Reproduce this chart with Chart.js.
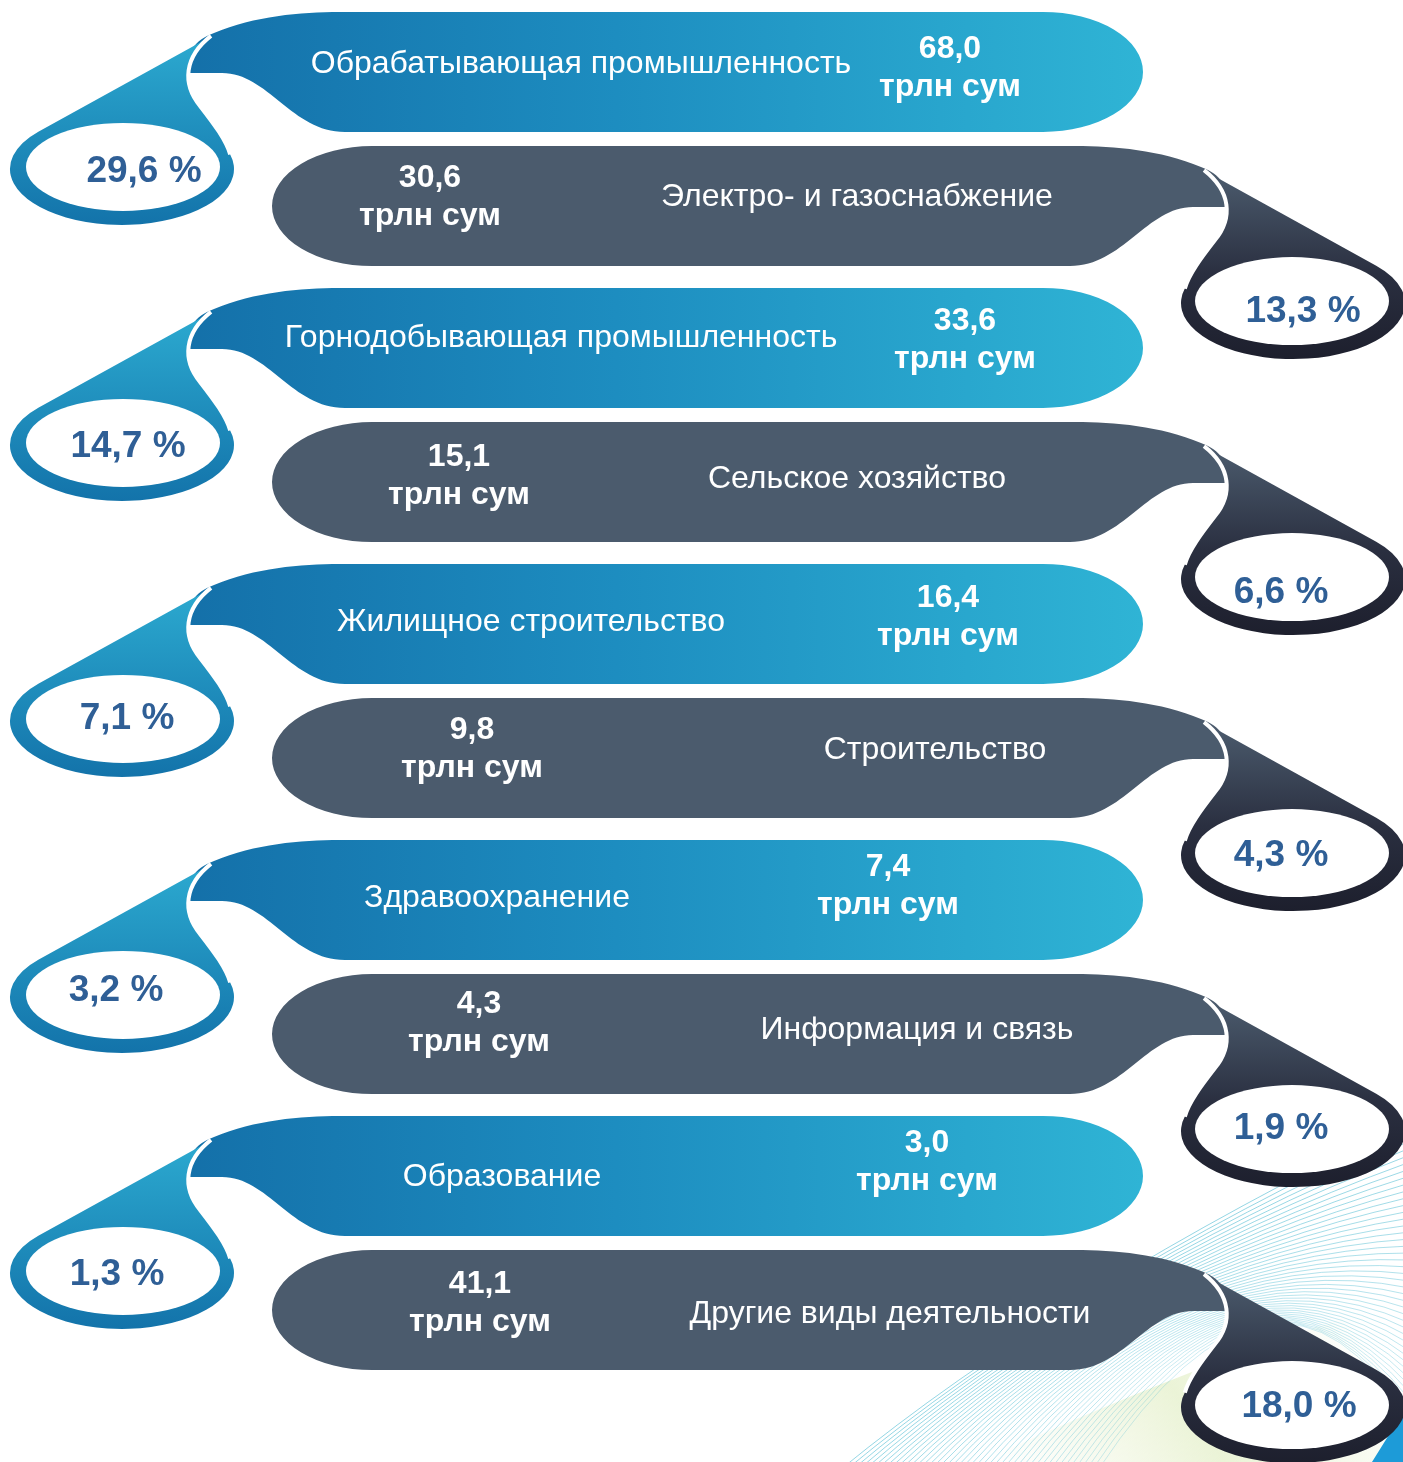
<!DOCTYPE html>
<html>
<head>
<meta charset="utf-8">
<title>Отрасли: объём и доля</title>
<script src="https://cdn.jsdelivr.net/npm/chart.js"></script>
<style>
  body { margin: 0; background: #fff; }
  #wrap { width: 1403px; height: 1462px; position: relative; }
</style>
</head>
<body>
<div id="wrap"><canvas id="grafica"></canvas></div>
<script>
// Данные (трлн сум и доля, %)
const categories = [
  'Обрабатывающая промышленность',
  'Электро- и газоснабжение',
  'Горнодобывающая промышленность',
  'Сельское хозяйство',
  'Жилищное строительство',
  'Строительство',
  'Здравоохранение',
  'Информация и связь',
  'Образование',
  'Другие виды деятельности'
];
const valuesTrln = [68.0, 30.6, 33.6, 15.1, 16.4, 9.8, 7.4, 4.3, 3.0, 41.1];
const sharesPct = [29.6, 13.3, 14.7, 6.6, 7.1, 4.3, 3.2, 1.9, 1.3, 18.0];
const unitLabel = 'трлн сум';

// Раскладка текста по строкам
const labelX = [581, 857, 561, 857, 531, 935, 497, 917, 502, 890];
const labelDy = [-8, -9, -10, -3, -2, -8, -2, -4, 1, 4];
const valueX = [950, 430, 965, 459, 948, 472, 888, 479, 927, 480];
const valueDy = [-23, -28, -27, -25, -26, -28, -33, -30, -33, -26];
const pctX = [144, 1303, 128, 1281, 127, 1281, 116, 1281, 117, 1299];
const pctDy = [100, 106, 99, 111, 95, 98, 91, 95, 99, 97];

const fmt = v => v.toFixed(1).replace('.', ',');
const MIRROR = 1415; // правые строки - зеркало левых

function fondo(ctx) {
  ctx.save();
  // светлая зелёная полоса
  const g = ctx.createLinearGradient(1000, 1462, 1300, 1250);
  g.addColorStop(0, 'rgba(225,235,190,0.0)');
  g.addColorStop(0.5, 'rgba(215,232,175,0.5)');
  g.addColorStop(1, 'rgba(215,232,175,0.0)');
  ctx.beginPath();
  ctx.moveTo(980, 1462);
  ctx.quadraticCurveTo(1200, 1360, 1403, 1300);
  ctx.lineTo(1403, 1462);
  ctx.closePath();
  ctx.fillStyle = g;
  ctx.fill();
  // тонкие линии
  ctx.lineWidth = 1;
  for (let k = 0; k < 44; k++) {
    ctx.beginPath();
    ctx.moveTo(840 + k * 6, 1470);
    ctx.quadraticCurveTo(1060 + k * 5, 1290 - k * 2, 1410, 1120 + k * 7);
    ctx.strokeStyle = 'rgba(60,180,205,' + (0.55 - k * 0.007) + ')';
    ctx.stroke();
  }
  // синий уголок
  ctx.beginPath();
  ctx.moveTo(1372, 1462);
  ctx.quadraticCurveTo(1392, 1430, 1403, 1412);
  ctx.lineTo(1403, 1462);
  ctx.closePath();
  ctx.fillStyle = '#1d9bd8';
  ctx.fill();
  ctx.restore();
}

function forma(ctx, cy, pillFill, tailFill) {
  // плашка
  ctx.beginPath();
  ctx.moveTo(340, cy - 60);
  ctx.lineTo(1043, cy - 60);
  ctx.ellipse(1043, cy, 100, 60, 0, -Math.PI / 2, Math.PI / 2);
  ctx.lineTo(345, cy + 60);
  ctx.bezierCurveTo(292, cy + 60, 268, cy + 1, 222, cy + 1);
  ctx.lineTo(186, cy + 1);
  ctx.bezierCurveTo(186, cy - 18, 194, cy - 32, 214, cy - 39);
  ctx.bezierCurveTo(255, cy - 56, 300, cy - 60, 340, cy - 60);
  ctx.closePath();
  ctx.fillStyle = pillFill;
  ctx.fill();

  // хвост и пузырь
  const bx = 122, by = cy + 97;
  const t0 = -15 * Math.PI / 180, t1 = 222 * Math.PI / 180;
  const jx = bx + 112 * Math.cos(t0), jy = by + 56 * Math.sin(t0);
  ctx.beginPath();
  ctx.moveTo(210, cy - 35);
  ctx.bezierCurveTo(184, cy - 15, 182, cy + 12, 200, cy + 34);
  ctx.bezierCurveTo(214, cy + 52, 226, cy + 68, jx, jy);
  ctx.ellipse(bx, by, 112, 56, 0, t0, t1);
  ctx.closePath();
  ctx.fillStyle = tailFill;
  ctx.fill();

  ctx.beginPath();
  ctx.moveTo(211, cy - 36);
  ctx.bezierCurveTo(184, cy - 15, 182, cy + 12, 200, cy + 34);
  ctx.bezierCurveTo(214, cy + 52, 226, cy + 68, jx, jy);
  ctx.lineWidth = 4;
  ctx.strokeStyle = '#fff';
  ctx.stroke();

  ctx.beginPath();
  ctx.ellipse(bx + 1, by - 2, 97, 44, 0, 0, Math.PI * 2);
  ctx.fillStyle = '#fff';
  ctx.fill();
}

const infografica = {
  id: 'infografica',
  beforeDatasetsDraw(chart) {
    fondo(chart.ctx);
  },
  afterDatasetsDraw(chart) {
    const ctx = chart.ctx;
    const yScale = chart.scales.y;
    categories.forEach((cat, i) => {
      const left = i % 2 === 0;
      const cy = yScale.getPixelForValue(i) + (left ? 1.9 : -1.9);

      ctx.save();
      const tail = ctx.createLinearGradient(0, cy - 35, 0, cy + 153);
      if (left) {
        const pill = ctx.createLinearGradient(186, 0, 1143, 0);
        pill.addColorStop(0, '#1470a9');
        pill.addColorStop(0.45, '#1d8dc0');
        pill.addColorStop(1, '#2fb4d5');
        tail.addColorStop(0, '#2caad0');
        tail.addColorStop(1, '#1373aa');
        forma(ctx, cy, pill, tail);
      } else {
        tail.addColorStop(0, '#4c5c6e');
        tail.addColorStop(0.55, '#2a2f40');
        tail.addColorStop(1, '#1d1f2d');
        ctx.translate(MIRROR, 0);
        ctx.scale(-1, 1);
        forma(ctx, cy, '#4b5b6d', tail);
      }
      ctx.restore();

      ctx.save();
      ctx.fillStyle = '#fff';
      ctx.textAlign = 'center';
      ctx.textBaseline = 'middle';
      ctx.font = "32px 'Liberation Sans', Arial, sans-serif";
      ctx.fillText(cat, labelX[i], cy + labelDy[i]);
      ctx.font = "bold 32px 'Liberation Sans', Arial, sans-serif";
      ctx.fillText(fmt(valuesTrln[i]), valueX[i], cy + valueDy[i]);
      ctx.fillText(unitLabel, valueX[i], cy + valueDy[i] + 38.5);

      ctx.fillStyle = '#2f5f96';
      ctx.font = "bold 37px 'Liberation Sans', Arial, sans-serif";
      ctx.fillText(fmt(sharesPct[i]) + ' %', pctX[i], cy + pctDy[i]);
      ctx.restore();
    });
  }
};

new Chart(document.getElementById('grafica'), {
  type: 'bar',
  data: {
    labels: categories,
    datasets: [{
      label: 'Доля, %',
      data: sharesPct,
      backgroundColor: 'rgba(0,0,0,0)',
      borderWidth: 0
    }]
  },
  options: {
    indexAxis: 'y',
    responsive: true,
    maintainAspectRatio: false,
    animation: false,
    layout: { padding: { top: 1, bottom: 81, left: 0, right: 0 } },
    scales: {
      x: { display: false, min: 0, max: 100 },
      y: { display: false }
    },
    plugins: {
      legend: { display: false },
      tooltip: { enabled: false }
    }
  },
  plugins: [infografica]
});
</script>
</body>
</html>
